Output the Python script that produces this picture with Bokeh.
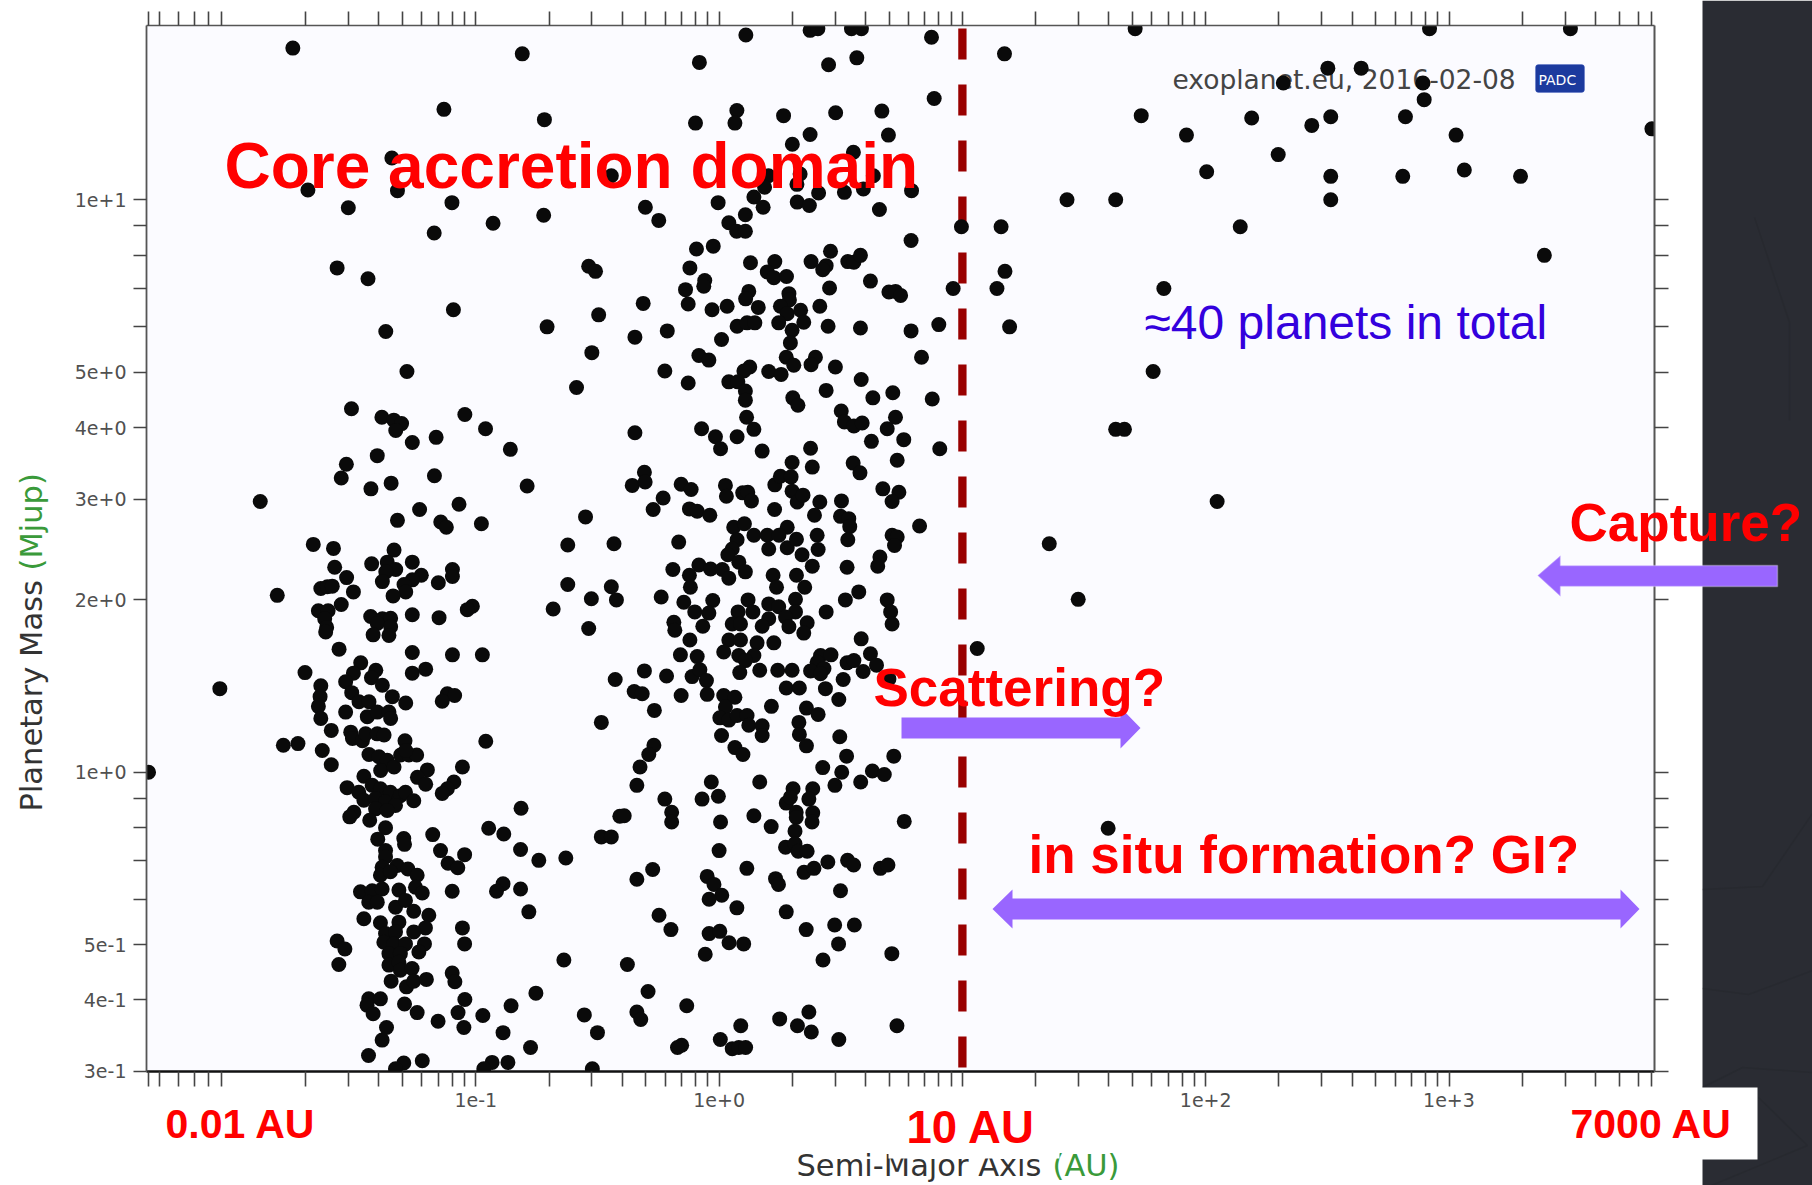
import numpy as np
from bokeh.embed import file_html
from bokeh.layouts import column
from bokeh.models import (BoxAnnotation, ColumnDataSource, CustomJSTickFormatter, FixedTicker,
                          Label, LogAxis, PolyAnnotation, Range1d)
from bokeh.plotting import figure
from bokeh.resources import INLINE

# log10 of semi-major axis (AU) and log10 of planetary mass (Mjup)
log_a_hot_upper = [
 -1.668,-1.585,-1.580,-1.531,-1.503,-1.637,-1.610,-1.590,-1.553,-1.816,
 -1.647,-1.607,-1.621,-1.613,-1.617,-1.562,-1.702,-1.637,-1.640,-1.647,
 -1.637,-1.594,-1.631,-1.594,-1.791,-1.731,-1.473,-1.503,-1.535,-1.510,
 -1.480,-1.439,-1.535,-1.446,-1.405,-1.357,-1.350,-1.343,-1.288,-1.411,
 -1.429,-1.384,-1.261,-1.096,-0.973,-1.261,-1.206,-1.117,-1.087,-1.138,
 -1.514,-1.507,-1.466,-1.453,-1.405,-1.377,-1.291,-0.959,-1.439,-1.398,
 -1.364,-1.391,-1.336,-1.309,-1.275,-1.243,-1.288,-1.055,-1.199,-1.240,
 -1.206,-1.090,-1.117,-1.138,-1.336,-1.364,-1.428,-1.329,-1.370,-1.384,
 -1.261,-1.224,-1.261,-1.295,-1.288,-1.340,-1.154,-1.096,-1.096,-1.014,
 -1.035,-1.261,-1.151,-1.432,-1.384,-1.350,-1.405,-1.350,-1.422,-1.357,
 -1.322,-1.144,-1.121,-0.977]
log_m_hot_upper = [
 0.398,0.391,0.358,0.340,0.315,0.321,0.324,0.325,0.293,0.309,
 0.282,0.282,0.268,0.253,0.245,0.215,0.174,0.151,0.132,0.115,
 0.094,0.073,0.038,0.013,0.047,0.050,0.191,0.173,0.158,0.139,
 0.123,0.123,0.105,0.097,0.105,0.105,0.094,0.132,0.121,0.178,
 0.165,0.152,0.209,0.205,0.205,0.173,0.180,0.137,0.134,0.124,
 0.070,0.059,0.055,0.067,0.067,0.065,0.055,0.054,0.031,0.027,
 0.021,0.003,0.009,0.030,0.030,0.030,0.038,0.009,0.004,-0.009,
 -0.021,-0.017,-0.029,-0.037,0.388,0.367,0.364,0.354,0.350,0.333,
 0.367,0.344,0.336,0.328,0.315,0.308,0.331,0.354,0.342,0.290,
 0.284,0.275,0.270,0.272,0.268,0.269,0.260,0.254,0.240,0.239,
 0.440,0.437,0.428,0.434]

log_a_hot_lower = [
 -1.460,-1.529,-1.481,-1.460,-1.426,-1.392,-1.351,-1.310,-1.289,-1.255,
 -1.412,-1.371,-1.330,-1.412,-1.364,-1.501,-1.518,-1.436,-1.371,-1.403,
 -1.296,-1.293,-1.177,-1.371,-1.371,-1.145,-1.046,-1.114,-1.074,-0.947,
 -0.885,-0.814,-0.816,-0.741,-0.888,-0.915,-0.816,-0.782,-1.385,-1.323,
 -1.392,-1.351,-1.279,-1.241,-1.474,-1.426,-1.385,-1.440,-1.405,-1.316,
 -1.248,-1.220,-1.097,-1.460,-1.392,-1.330,-1.289,-1.255,-1.193,-1.207,
 -1.316,-1.255,-1.371,-1.330,-1.378,-1.337,-1.289,-1.211,-1.234,-1.357,
 -1.310,-1.357,-1.316,-1.310,-1.262,-1.570,-1.538,-1.563,-1.055,-1.046,
 -1.097,-1.086,-1.348,-1.285,-1.255,-1.203,-1.440,-1.392,-1.447,-1.422,
 -1.293,-1.241,-1.045,-1.073,-1.155,-1.049,-0.971,-0.855,-0.753,-0.888,
 -0.775,-1.367,-1.385,-1.441,-1.296,-1.220,-1.330,-0.933,-0.868,-0.967]
log_m_hot_lower = [
 -0.007,-0.027,-0.035,-0.049,-0.023,-0.029,-0.035,-0.041,-0.035,-0.050,
 -0.046,-0.052,-0.058,-0.064,-0.067,-0.070,-0.078,-0.084,-0.097,-0.117,
 -0.116,-0.126,-0.109,-0.137,-0.148,-0.137,-0.144,-0.159,-0.167,-0.098,
 -0.108,-0.063,-0.135,-0.154,-0.195,-0.208,-0.204,-0.244,-0.166,-0.163,
 -0.180,-0.174,-0.169,-0.180,-0.209,-0.207,-0.204,-0.227,-0.227,-0.206,
 -0.201,-0.211,-0.208,-0.256,-0.263,-0.236,-0.224,-0.243,-0.250,-0.272,
 -0.262,-0.279,-0.282,-0.279,-0.297,-0.300,-0.300,-0.300,-0.314,-0.317,
 -0.317,-0.337,-0.332,-0.346,-0.343,-0.295,-0.309,-0.336,-0.272,-0.300,
 -0.351,-0.366,-0.365,-0.375,-0.365,-0.362,-0.396,-0.396,-0.407,-0.422,
 -0.405,-0.420,-0.397,-0.420,-0.435,-0.446,-0.425,-0.408,-0.386,-0.455,
 -0.481,-0.446,-0.468,-0.495,-0.508,-0.504,-0.518,-0.507,-0.507,-0.518]

log_a_left_high = [
 -1.886,-1.511,-1.386,-1.337,-1.305,-1.329,-1.045,-0.960,-1.261,-1.163,
 -0.858,-1.405,-1.532,-1.553,-1.431,-1.348,-1.170,-0.789,-1.069,-1.231,
 -0.549,-0.622,-0.432,-0.622,-0.443,-0.525,-0.422,-0.682,-0.536,-0.427,
 -0.484,-2.052,-2.345,-0.408,-0.484,-0.443,-0.630,-0.638,-0.554,-0.500,
 -0.521,-1.752,-0.809,-1.131,-0.718,-1.345,-0.443,-1.690,-1.322,-1.524,
 -1.098,-0.721,-0.929,-1.171,-1.570,-0.536,-0.508,-1.092,-0.495,-0.707,
 -1.370,-0.523,-1.283,-0.586,-1.443,-0.346,-0.357,-0.349,-0.346]
log_m_left_high = [
 0.473,0.635,0.620,0.615,0.609,0.597,0.625,0.600,0.576,0.585,
 0.564,0.553,0.538,0.514,0.495,0.505,0.518,0.500,0.468,0.459,
 0.446,0.397,0.399,0.328,0.324,0.303,0.301,0.285,0.251,0.162,
 0.087,0.146,0.000,-0.077,-0.113,-0.113,-0.150,-0.328,-0.424,-0.455,
 -0.518,1.265,1.255,1.158,1.140,1.073,1.042,1.017,1.016,0.986,
 0.995,0.973,0.959,0.942,0.881,0.884,0.875,0.808,0.799,0.778,
 0.770,0.733,0.700,0.672,0.862,0.593,0.501,0.141,0.760]

log_a_top = [
 0.110,0.374,0.406,0.544,0.585,0.873,1.173,-0.081,0.450,0.566,
 0.884,0.073,0.065,-0.097,0.265,0.479,0.669,1.735,1.921,2.004,
 0.374,0.696,0.301,0.552,0.634,0.203,0.333,0.187,0.320,0.409,
 0.515,0.593,0.791,-0.303,-0.248,-0.004,0.143,0.181,0.108,0.040,
 0.072,0.108,0.321,0.371,0.659,0.789,-0.093,-0.024,-0.120,0.129,
 0.229,0.198,0.225,0.277,0.378,0.458,0.440,0.426,0.529,0.554,
 0.581,0.622,-0.059,-0.063,-0.138,-0.127,-0.312,-0.029,0.033,0.122,
 0.109,0.161,0.287,0.289,0.252,0.280,0.335,0.245,0.348,0.414,
 0.454,0.698,0.725,0.746,0.448,0.581,0.789,0.903,-0.213,0.010,
 0.074,0.115,0.147,0.300,0.293,0.832,-0.083,-0.042,0.276,0.307,
 0.396,0.378,0.478,-0.223,-0.127,0.126,0.102,0.204,0.255,0.040,
 0.077,0.584,0.440,0.714,0.632,0.876,0.108,0.108,0.303,0.324,
 0.502,0.515,0.554,0.588,0.725,0.691,0.113,0.143,-0.072,-0.015,
 0.006,0.074,0.177,0.376,0.626,0.759,0.907]
log_m_top = [
 1.288,1.296,1.299,1.299,1.299,1.284,1.255,1.240,1.236,1.248,
 1.177,1.156,1.134,1.134,1.147,1.152,1.155,1.147,1.113,1.049,
 1.114,1.113,1.097,1.083,1.042,1.042,1.045,1.022,1.027,1.012,
 1.013,1.019,1.016,0.987,0.964,0.995,1.005,0.987,0.974,0.960,
 0.945,0.945,0.996,0.990,0.983,0.929,0.914,0.919,0.881,0.890,
 0.892,0.874,0.864,0.866,0.892,0.910,0.885,0.878,0.892,0.891,
 0.903,0.858,0.859,0.849,0.843,0.818,0.819,0.808,0.814,0.840,
 0.827,0.812,0.836,0.825,0.814,0.801,0.807,0.785,0.786,0.814,
 0.846,0.839,0.840,0.833,0.779,0.776,0.771,0.782,0.771,0.756,
 0.779,0.785,0.785,0.772,0.750,0.725,0.728,0.720,0.725,0.711,
 0.725,0.712,0.708,0.701,0.680,0.708,0.701,0.700,0.695,0.682,
 0.682,0.686,0.667,0.663,0.654,0.652,0.666,0.650,0.654,0.641,
 0.631,0.612,0.605,0.610,0.620,0.600,0.620,0.599,0.600,0.586,
 0.565,0.586,0.561,0.566,0.578,0.581,0.565]

log_a_middle = [
 0.300,0.383,0.551,0.579,0.732,-0.307,-0.304,-0.156,-0.115,-0.230,
 -0.271,-0.122,-0.090,-0.038,0.026,0.030,0.097,0.118,0.133,0.229,
 0.252,0.296,0.228,0.300,0.321,0.345,0.414,0.503,0.392,0.499,
 0.533,0.537,0.673,0.739,0.711,0.824,0.060,0.104,0.280,0.143,
 0.198,0.246,0.074,0.054,0.036,0.204,0.280,0.318,0.341,0.403,
 0.407,0.529,0.711,0.732,0.721,0.661,0.652,0.383,0.526,-0.166,
 -0.190,-0.083,-0.035,0.013,0.040,0.081,0.108,-0.122,-0.118,0.222,
 0.236,0.318,0.352,-0.238,-0.145,-0.026,-0.100,-0.042,-0.067,-0.186,
 -0.182,-0.120,0.119,0.139,0.078,0.054,0.088,0.204,0.245,0.314,
 0.314,0.273,0.204,0.177,0.287,0.362,0.348,0.440,0.519,0.574,
 0.691,0.705,0.711,0.584,0.622,0.647,0.698,0.040,0.088,0.156,
 0.225,0.019,0.081,0.143,0.108,-0.159,-0.090,0.417,0.460,0.403,
 0.526,0.554,0.431,0.376,0.417,0.592,-0.307,-0.216,-0.111,-0.079,
 -0.052,0.085,0.167,0.241,0.300,0.510,0.437,0.276,0.330,0.492,
 -0.049,-0.156,-0.316,-0.266,0.019,0.065,0.215,0.359,0.407,0.026,
 0.003,0.040,0.074,0.115,0.122,0.177,0.177,0.010,0.328,0.330,
 0.359,0.496,0.065,0.098,0.524,0.718,-0.268,-0.289]
log_m_middle = [
 0.541,0.533,0.540,0.523,0.545,0.524,0.507,0.503,0.494,0.479,
 0.459,0.460,0.456,0.449,0.501,0.482,0.488,0.489,0.474,0.502,
 0.517,0.516,0.459,0.491,0.472,0.484,0.472,0.474,0.449,0.447,
 0.443,0.429,0.495,0.489,0.473,0.430,0.428,0.434,0.428,0.414,
 0.414,0.414,0.406,0.390,0.380,0.390,0.392,0.407,0.380,0.414,
 0.389,0.406,0.414,0.411,0.396,0.376,0.360,0.360,0.358,0.402,
 0.354,0.362,0.355,0.354,0.339,0.367,0.350,0.344,0.323,0.344,
 0.323,0.344,0.323,0.306,0.297,0.300,0.280,0.278,0.255,0.262,
 0.248,0.231,0.301,0.280,0.280,0.259,0.259,0.294,0.289,0.302,
 0.280,0.271,0.268,0.255,0.254,0.261,0.243,0.280,0.301,0.315,
 0.301,0.280,0.259,0.233,0.207,0.187,0.163,0.231,0.231,0.226,
 0.226,0.210,0.204,0.204,0.195,0.205,0.202,0.204,0.205,0.192,
 0.191,0.195,0.181,0.177,0.172,0.176,0.177,0.168,0.167,0.179,
 0.160,0.174,0.178,0.178,0.178,0.162,0.146,0.147,0.147,0.127,
 0.136,0.134,0.137,0.108,0.134,0.131,0.115,0.112,0.101,0.114,
 0.095,0.091,0.099,0.099,0.082,0.081,0.064,0.064,0.087,0.066,
 0.046,0.062,0.043,0.031,0.028,0.028,0.047,0.031]

log_a_lower = [
 0.426,0.504,0.630,0.679,0.582,0.476,-0.338,-0.325,-0.032,0.167,
 0.304,0.385,-0.223,-0.070,-0.003,0.276,0.293,0.369,-0.390,-0.195,
 -0.195,0.006,0.143,0.214,0.317,0.317,0.385,0.382,0.312,0.761,
 0.273,0.312,0.325,0.362,-0.000,0.114,-0.273,-0.338,-0.049,-0.021,
 0.232,0.244,0.349,0.390,0.447,0.528,0.553,0.663,0.694,0.499,
 0.011,-0.041,0.073,0.276,-0.247,-0.198,-0.041,0.003,0.041,0.101,
 0.358,0.475,0.556,0.491,-0.057,0.710,0.427,-0.377,-0.292,-0.133,
 -0.338,-0.322,0.369,0.249,0.322,0.379,0.492,0.731,0.089,0.005,
 -0.154,-0.171,0.054,0.081,0.109,1.599]
log_m_lower = [
 0.008,0.000,0.002,-0.004,-0.017,-0.023,-0.023,0.009,-0.017,-0.017,
 -0.029,-0.029,-0.047,-0.047,-0.042,-0.054,-0.044,-0.047,-0.076,-0.070,
 -0.087,-0.087,-0.076,-0.095,-0.070,-0.079,-0.071,-0.087,-0.103,-0.086,
 -0.131,-0.125,-0.138,-0.138,-0.137,-0.168,-0.170,-0.187,-0.182,-0.196,
 -0.186,-0.196,-0.175,-0.168,-0.157,-0.154,-0.162,-0.168,-0.162,-0.207,
 -0.215,-0.222,-0.237,-0.244,-0.250,-0.275,-0.282,-0.278,-0.298,-0.300,
 -0.275,-0.267,-0.267,-0.300,-0.318,-0.317,-0.328,-0.336,-0.383,-0.408,
 -0.419,-0.432,-0.419,-0.431,-0.443,-0.454,-0.467,-0.443,-0.443,-0.467,
 -0.477,-0.481,-0.483,-0.481,-0.481,-0.098]

log_a_wide = [
 1.630,1.666,1.357,1.476,1.061,2.047,0.996,1.159,1.430,1.630,
 1.175,1.142,0.962,1.828,1.194,1.784,1.710,2.502,2.639,2.319,
 2.893,2.898,2.189,2.436,2.514,2.821,3.029,2.298,2.514,2.810,
 3.063,3.294,2.514,2.142,3.392,3.834,2.920,3.499]
log_m_wide = [
 0.599,0.599,0.399,0.302,0.216,0.473,0.953,0.953,1.000,1.000,
 0.875,0.845,0.845,0.845,0.778,0.700,1.299,1.230,1.230,1.204,
 1.204,1.175,1.143,1.130,1.145,1.145,1.113,1.079,1.041,1.041,
 1.052,1.041,1.000,0.953,0.903,1.124,1.299,1.299]

x_major_ticks = [0.1, 1, 10, 100, 1000]
x_minor_ticks = [0.0045, 0.005, 0.006, 0.007, 0.008, 0.009, 0.02, 0.03, 0.04, 0.05, 0.06, 0.07, 0.08, 0.09,
                 0.2, 0.3, 0.4, 0.5, 0.6, 0.7, 0.8, 0.9, 2, 3, 4, 5, 6, 7, 8, 9,
                 20, 30, 40, 50, 60, 70, 80, 90, 200, 300, 400, 500, 600, 700, 800, 900,
                 2000, 3000, 4000, 5000, 6000, 6800]
y_major_ticks = [0.3, 0.4, 0.5, 1, 2, 3, 4, 5, 10]
y_minor_ticks = [0.6, 0.7, 0.8, 0.9, 6, 7, 8, 9]
boundary_au = [10, 10]
boundary_mjup = [0.305, 20.5]

log_a = np.array(log_a_hot_upper + log_a_hot_lower + log_a_left_high + log_a_top + log_a_middle + log_a_lower + log_a_wide)
log_m = np.array(log_m_hot_upper + log_m_hot_lower + log_m_left_high + log_m_top + log_m_middle + log_m_lower + log_m_wide)

W, H = 1812, 1185
FL, FR, FT, FB = 146, 1654, 25, 1071  # page position of the frame
X0, DX, Y0, DY = 718.6, 243.3, 771.7, 572.4  # page position of 1 AU / 1 Mjup and px per decade
x_start, x_end = 10 ** ((FL - X0) / DX), 10 ** ((FR - X0) / DX)
y_start, y_end = 10 ** ((Y0 - FB) / DY), 10 ** ((Y0 - FT) / DY)

p = figure(width=W, height=H, output_backend="svg", toolbar_location=None,
           x_axis_type="log", y_axis_type="log", frame_align=False,
           x_range=Range1d(x_start, x_end), y_range=Range1d(y_start, y_end),
           min_border_left=FL, min_border_right=W - FR, min_border_top=FT,
           min_border_bottom=H - FB, background_fill_color="#fbfbff", border_fill_color="#ffffff",
           outline_line_color=None)
p.grid.visible = False

# transparent sheet over the chart, for the slide's own labels, arrows and panels
sheet = figure(width=W, height=H, output_backend="svg", toolbar_location=None, x_axis_type=None, y_axis_type=None,
               frame_align=False, x_range=Range1d(0, W), y_range=Range1d(H, 0), min_border=0, outline_line_color=None,
               background_fill_alpha=0, border_fill_alpha=0,
               styles={"position": "absolute", "top": "0px", "left": "0px"})
sheet.grid.visible = False

xt = FixedTicker(ticks=x_major_ticks, minor_ticks=x_minor_ticks)
yt = FixedTicker(ticks=y_major_ticks, minor_ticks=y_minor_ticks)
exp_fmt = CustomJSTickFormatter(code="return tick.toExponential()")
blank = CustomJSTickFormatter(code="return ''")

def style(ax, length, color, width):
    ax.major_tick_in = ax.minor_tick_in = 0
    ax.major_tick_out = ax.minor_tick_out = length
    ax.major_tick_line_color = ax.minor_tick_line_color = "#444444"
    ax.major_tick_line_width = ax.minor_tick_line_width = 1.6
    ax.axis_line_color = color
    ax.axis_line_width = width
    ax.major_label_text_font = "DejaVu Sans"
    ax.major_label_text_font_size = "19px"
    ax.major_label_text_color = "#505050"

xa = p.xaxis[0]; ya = p.yaxis[0]
xa.ticker = xt; ya.ticker = yt
xa.formatter = exp_fmt; ya.formatter = exp_fmt
style(xa, 15, "#111111", 2.4); style(ya, 13, "#555555", 1.8)
xa.major_label_standoff = 6; ya.major_label_standoff = 7
top = LogAxis(ticker=xt, formatter=blank, major_label_standoff=0)
right = LogAxis(ticker=yt, formatter=blank, major_label_standoff=0)
style(top, 14, "#555555", 1.4); style(right, 14, "#555555", 2)
p.add_layout(top, "above"); p.add_layout(right, "right")

def box(fig, l, r, t, b, color, **kw):
    fig.add_layout(BoxAnnotation(left=l, right=r, top=t, bottom=b, left_units="canvas", right_units="canvas",
                                 top_units="canvas", bottom_units="canvas", fill_color=color, fill_alpha=1,
                                 line_color=kw.pop("line", None), **kw))

def poly(xs, ys, fill, fill_alpha=1.0, line=None, lw=1.5):
    sheet.add_layout(PolyAnnotation(xs=xs, ys=ys, xs_units="canvas", ys_units="canvas", fill_color=fill,
                                    fill_alpha=fill_alpha, line_color=line, line_width=lw))

BASE = 0.34  # baseline correction, in font sizes
def lab(fig, text, X, Y, size, color="#ff0000", font="Liberation Sans", fstyle="bold", angle=0, level="annotation"):
    if angle:
        X = X - BASE * size
    else:
        Y = Y - BASE * size
    fig.add_layout(Label(x=X, y=Y, x_units="canvas", y_units="canvas", text=text, text_font=font,
                         text_font_size=f"{size}px", text_color=color, text_font_style=fstyle, text_align="left",
                         text_baseline="alphabetic", angle=angle, angle_units="deg", level=level))

# watermark lies below the dots
lab(p, "exoplanet.eu, 2016-02-08", 1172, 88, 26.5, "#444444", "DejaVu Sans", "normal", level="underlay")
box(p, 1535, 1584, 64, 92, "#1c3a9e", line="#3a5ac0", level="underlay", border_radius=3)
lab(p, "PADC", 1538, 84, 14, "#ffffff", "DejaVu Sans", "normal", level="underlay")

p.line(boundary_au, boundary_mjup, line_color="#990000", line_width=8.3, line_dash="31 25")

src = ColumnDataSource(dict(a=10 ** log_a, m=10 ** log_m))
p.scatter("a", "m", source=src, size=15, fill_color="#0a0a0a", line_color=None)

# dark slide panel on the right of the chart, with its faint decoration
box(sheet, 1702, W, 0, H, "#2a2c33")
panel_lines = [([1754, 1789, 1789], [217, 322, 420]), ([1702, 1762, 1812], [889, 886, 813]),
               ([1702, 1748, 1812], [988, 994, 970]), ([1702, 1742, 1812], [1087, 1067, 1072]),
               ([1758, 1807, 1711], [1097, 1145, 1185])]
for xs, ys in panel_lines:
    poly(xs + xs[::-1], ys + ys[::-1], "#2a2c33", 0.0, "#212329", 1.5)

# axis titles
lab(sheet, "Planetary Mass ", 41, 811, 30.5, "#333333", "DejaVu Sans", "normal", angle=90)
lab(sheet, "(Mjup)", 41, 570, 30.5, "#3a9a3a", "DejaVu Sans", "normal", angle=90)
lab(sheet, "Semi-Major Axis ", 796, 1175, 30.5, "#333333", "DejaVu Sans", "normal")
lab(sheet, "(AU)", 1052, 1175, 30.5, "#3a9a3a", "DejaVu Sans", "normal")

# white patches of the slide under the red labels
box(sheet, 888, 1059, 1092, 1158, "#ffffff")
box(sheet, 1700, 1757, 1087, 1159, "#ffffff")

poly([901, 1120, 1120, 1140, 1120, 1120, 901], [717, 717, 707, 727.5, 748, 738, 738], "#9966ff")
poly([992, 1012, 1012, 1620, 1620, 1639, 1620, 1620, 1012, 1012],
     [908.5, 889, 898, 898, 889, 908.5, 928, 919, 919, 928], "#9966ff")
poly([1537, 1560, 1560, 1777, 1777, 1560, 1560], [575, 555, 565, 565, 586, 586, 596], "#9966ff", line="#ffffff")

lab(sheet, "Core accretion domain", 224, 187, 64)
lab(sheet, "≈40 planets in total", 1144, 338, 48, "#3300dd", fstyle="normal")
lab(sheet, "Scattering?", 873, 705, 53)
lab(sheet, "Capture?", 1569, 540, 53)
lab(sheet, "in situ formation? GI?", 1028, 872, 53)
lab(sheet, "0.01 AU", 165, 1137, 41)
lab(sheet, "10 AU", 906, 1142, 45.5)
lab(sheet, "7000 AU", 1570, 1137, 41)

root = column(p, sheet, width=W, height=H, styles={"position": "relative"})
open("out.html", "w").write(file_html(root, INLINE))
